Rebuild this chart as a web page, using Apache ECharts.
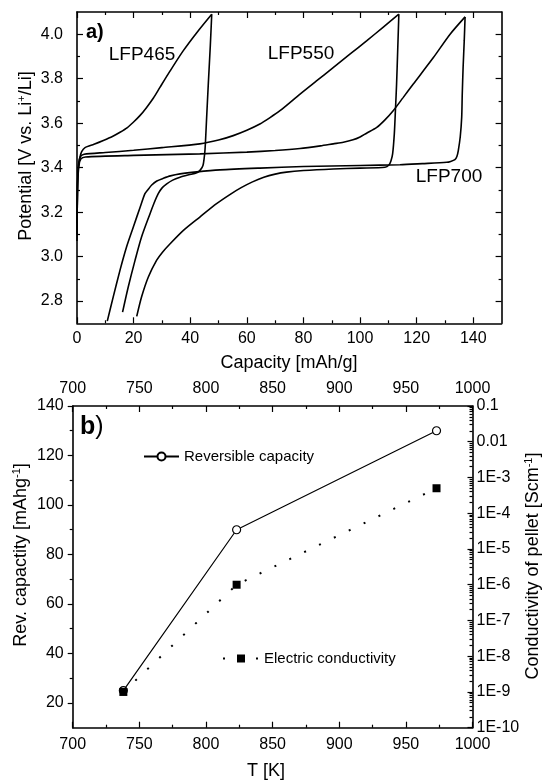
<!DOCTYPE html>
<html>
<head>
<meta charset="utf-8">
<script src="https://cdn.jsdelivr.net/npm/echarts@6/dist/echarts.min.js"></script>
<style>
  html, body { margin: 0; padding: 0; background: #fff; }
  #chart { width: 545px; height: 781px; }
</style>
</head>
<body>
<div id="chart"></div>
<script>
// ---- panel a): charge / discharge profiles, [capacity mAh/g, potential V] ----
const lfp465Charge = [[0,3.07],[0.15,3.30],[0.46,3.40],[1.06,3.447],[1.65,3.472],[2.83,3.490],[6,3.505],[9.3,3.522],[12.5,3.54],[15.2,3.559],[17.8,3.58],[19.9,3.604],[22.3,3.635],[24.6,3.671],[27,3.713],[29.3,3.761],[32.9,3.835],[37.5,3.925],[42.3,4.007],[47.6,4.09]];
const lfp465Discharge = [[47.6,4.09],[47.1,3.95],[46.4,3.78],[45.8,3.626],[45.4,3.52],[45.2,3.477],[44.9,3.44],[44.5,3.41],[43.6,3.39],[42.3,3.377],[39.5,3.368],[36.4,3.357],[33.8,3.344],[31.7,3.327],[30,3.308],[28.7,3.283],[27.2,3.24],[25.8,3.193],[22.8,3.088],[20.5,2.983],[18.1,2.863],[16.1,2.75]];
const lfp550Charge = [[0,3.10],[0.2,3.32],[0.6,3.42],[1.2,3.45],[2.5,3.46],[10,3.468],[20,3.478],[30,3.49],[43.4,3.507],[50,3.524],[55.2,3.544],[60,3.568],[64.6,3.596],[68.2,3.625],[71.7,3.656],[78.8,3.731],[84.6,3.79],[90.5,3.85],[96.4,3.91],[102.3,3.97],[108,4.03],[113.7,4.09]];
const lfp550Discharge = [[113.7,4.09],[113.3,3.93],[112.9,3.776],[112.5,3.66],[112.1,3.552],[111.5,3.462],[110.9,3.43],[110.2,3.412],[108.8,3.402],[100,3.398],[90.5,3.394],[80,3.387],[74,3.38],[70,3.371],[66,3.357],[62,3.336],[58,3.31],[54,3.279],[49.3,3.238],[43.4,3.178],[37.6,3.118],[32.9,3.058],[30.2,3.02],[28.1,2.983],[25.2,2.908],[22.8,2.818],[21.1,2.731]];
const lfp700Charge = [[0,3.15],[0.25,3.33],[0.7,3.41],[1.4,3.44],[3,3.448],[20,3.455],[43.4,3.462],[60,3.47],[70,3.477],[78.8,3.486],[86,3.498],[90.5,3.507],[94.1,3.514],[97.5,3.525],[100,3.538],[102.3,3.555],[105.9,3.581],[108.8,3.615],[111.7,3.656],[115.2,3.715],[118.8,3.776],[125.9,3.895],[131.8,4.0],[137.1,4.078]];
const lfp700Discharge = [[137.1,4.078],[136.8,3.97],[136.4,3.85],[136.1,3.73],[135.9,3.626],[135.4,3.54],[134.7,3.477],[134.2,3.45],[133.5,3.436],[132,3.428],[130.6,3.424],[122,3.418],[114.1,3.413],[100,3.41],[80,3.405],[64.6,3.398],[50.5,3.39],[42.3,3.381],[36.4,3.372],[33,3.363],[30.5,3.352],[28.2,3.34],[26.4,3.322],[25,3.30],[24,3.283],[22.3,3.222],[19.9,3.133],[17.5,3.043],[15.2,2.939],[12.8,2.819],[10.7,2.71]];

const capacityTicks = [0, 20, 40, 60, 80, 100, 120, 140];
const capacityMinor = [10, 30, 50, 70, 90, 110, 130];
const potentialTicks = [2.8, 3.0, 3.2, 3.4, 3.6, 3.8, 4.0];
const potentialMinor = [2.9, 3.1, 3.3, 3.5, 3.7, 3.9];

// ---- panel b): synthesis temperature vs. capacity and conductivity ----
const tempK = [738, 823, 973];
const revCapacity = [25, 90, 130];
const conductivity = [1e-9, 1e-6, 5e-4];

const tempTicks = [700, 750, 800, 850, 900, 950, 1000];
const revCapTicks = [20, 40, 60, 80, 100, 120, 140];
const revCapMinor = [30, 50, 70, 90, 110, 130];
const conductivityDecades = [-10, -9, -8, -7, -6, -5, -4, -3, -2, -1];

const FONT = '"Liberation Sans", Arial, Helvetica, sans-serif';
const INK = '#000';

// minor ticks of the logarithmic conductivity axis (2..9 within each decade)
const logMinor = [];
conductivityDecades.slice(0, -1).forEach(e => {
  for (let k = 2; k <= 9; k++) logMinor.push(e + Math.log10(k));
});

function decadeLabel(v) {
  const e = Math.round(Math.log10(v));
  if (e === -1) return '0.1';
  if (e === -2) return '0.01';
  return '1E' + e;
}

function linAxis(o) {
  return {
    type: 'value',
    gridIndex: o.grid,
    position: o.pos,
    min: o.min,
    max: o.max,
    axisLine: { show: o.line !== false, onZero: false, lineStyle: { color: INK, width: 1.6 } },
    axisTick: { show: true, inside: o.inside, length: o.len, customValues: o.ticks,
                lineStyle: { color: INK, width: 1.2 } },
    axisLabel: o.labels
      ? { show: true, customValues: o.ticks, margin: o.margin, color: INK, fontSize: 16,
          fontFamily: FONT, formatter: o.fmt || (v => String(v)) }
      : { show: false },
    splitLine: { show: false },
    z: 5
  };
}

const fmtPot = v => Number(v).toFixed(1);

function tempAxis(pos) {
  return {
    type: 'value', gridIndex: 1, position: pos, min: tempTicks[0], max: tempTicks[tempTicks.length - 1], interval: 50,
    axisLine: { onZero: false, lineStyle: { color: INK, width: 1.6 } },
    axisTick: { inside: true, length: 6, lineStyle: { color: INK, width: 1.2 } },
    minorTick: { show: true, splitNumber: 2, length: 3, lineStyle: { color: INK, width: 1.2 } },
    axisLabel: { margin: 9, color: INK, fontSize: 16, fontFamily: FONT, formatter: v => String(v) },
    splitLine: { show: false }
  };
}

const xAxes = [
  // panel a
  linAxis({ grid: 0, pos: 'bottom', min: 0, max: 150, ticks: capacityTicks, inside: true, len: 6, labels: true, margin: 7 }),
  linAxis({ grid: 0, pos: 'bottom', min: 0, max: 150, ticks: capacityMinor, inside: true, len: 3, line: false }),
  linAxis({ grid: 0, pos: 'top', min: 0, max: 150, ticks: capacityTicks, inside: true, len: 6 }),
  linAxis({ grid: 0, pos: 'top', min: 0, max: 150, ticks: capacityMinor, inside: true, len: 3, line: false }),
  // panel b
  tempAxis('bottom'),
  tempAxis('top')
];

const yAxes = [
  // panel a
  linAxis({ grid: 0, pos: 'left', min: 2.7, max: 4.1, ticks: potentialTicks, inside: true, len: 6, labels: true, margin: 14, fmt: fmtPot }),
  linAxis({ grid: 0, pos: 'left', min: 2.7, max: 4.1, ticks: potentialMinor, inside: true, len: 3, line: false }),
  linAxis({ grid: 0, pos: 'right', min: 2.7, max: 4.1, ticks: potentialTicks, inside: true, len: 6 }),
  linAxis({ grid: 0, pos: 'right', min: 2.7, max: 4.1, ticks: potentialMinor, inside: true, len: 3, line: false }),
  // panel b, left: reversible capacity
  linAxis({ grid: 1, pos: 'left', min: 10, max: 140, ticks: revCapTicks, inside: false, len: 5, labels: true, margin: 9 }),
  linAxis({ grid: 1, pos: 'left', min: 10, max: 140, ticks: revCapMinor, inside: false, len: 3, line: false }),
  // panel b, right: conductivity (log)
  {
    type: 'log', logBase: 10, gridIndex: 1, position: 'right', min: 1e-10, max: 0.1,
    axisLine: { onZero: false, lineStyle: { color: INK, width: 1.6 } },
    axisTick: { inside: true, length: 5, lineStyle: { color: INK, width: 1.2 } },
    axisLabel: { margin: 4, color: INK, fontSize: 16, fontFamily: FONT, formatter: decadeLabel },
    splitLine: { show: false }
  },
  linAxis({ grid: 1, pos: 'right', min: -10, max: -1, ticks: logMinor, inside: true, len: 3, line: false })
];

function profile(name, data) {
  return {
    name, type: 'line', xAxisIndex: 0, yAxisIndex: 0, data,
    showSymbol: false, symbol: 'none', smooth: 0.25, clip: true,
    lineStyle: { color: INK, width: 1.6 }, z: 3
  };
}

const series = [
  profile('LFP465 charge', lfp465Charge),
  profile('LFP465 discharge', lfp465Discharge),
  profile('LFP550 charge', lfp550Charge),
  profile('LFP550 discharge', lfp550Discharge),
  profile('LFP700 charge', lfp700Charge),
  profile('LFP700 discharge', lfp700Discharge),
  {
    name: 'Reversible capacity', type: 'line', xAxisIndex: 4, yAxisIndex: 4,
    data: tempK.map((t, i) => [t, revCapacity[i]]),
    symbol: 'circle', symbolSize: 8, showSymbol: true,
    lineStyle: { color: INK, width: 1.2 },
    itemStyle: { color: '#fff', borderColor: INK, borderWidth: 1.2 }, z: 4
  },
  {
    name: 'Electric conductivity', type: 'line', xAxisIndex: 4, yAxisIndex: 6,
    data: tempK.map((t, i) => [t, conductivity[i]]),
    symbol: 'rect', symbolSize: 8, showSymbol: true,
    lineStyle: { color: INK, width: 2, type: [2, 14.5] },
    itemStyle: { color: INK }, z: 4
  }
];

function label(x, y, text, size, extra) {
  return Object.assign({
    type: 'text', x, y, z: 20,
    style: { text, fill: INK, fontSize: size, fontFamily: FONT, align: 'center', verticalAlign: 'middle' }
  }, extra || {});
}

function supLabel(x, y, pre, sup, post, rotation) {
  return {
    type: 'text', x, y, rotation, z: 20,
    style: {
      text: `{n|${pre}}{s|${sup}}{n|${post}}`,
      fill: INK, align: 'center', verticalAlign: 'middle',
      rich: {
        n: { fontSize: 18, fontFamily: FONT, fill: INK, lineHeight: 20 },
        s: { fontSize: 11, fontFamily: FONT, fill: INK, verticalAlign: 'top', lineHeight: 11 }
      }
    }
  };
}

const graphic = [
  // panel a annotations
  {
    type: 'text', x: 86, y: 32, z: 20,
    style: { text: 'a)', fill: INK, fontSize: 20, fontWeight: 'bold', fontFamily: FONT, align: 'left', verticalAlign: 'middle' }
  },
  label(142, 55, 'LFP465', 19),
  label(301, 54, 'LFP550', 19),
  label(449, 177, 'LFP700', 19),
  label(289, 363, 'Capacity [mAh/g]', 18),
  supLabel(26, 156, 'Potential [V vs. Li', '+', '/Li]', Math.PI / 2),
  // panel b annotations
  {
    type: 'text', x: 80, y: 427, z: 20,
    style: {
      text: '{b|b}{p|)}', align: 'left', verticalAlign: 'middle',
      rich: {
        b: { fontSize: 25, fontWeight: 'bold', fontFamily: FONT, fill: INK },
        p: { fontSize: 25, fontFamily: FONT, fill: INK }
      }
    }
  },
  label(266, 771, 'T [K]', 18),
  supLabel(21, 555, 'Rev. capactity [mAhg', '-1', ']', Math.PI / 2),
  supLabel(533, 566, 'Conductivity of pellet [Scm', '-1', ']', Math.PI / 2)
];

const legendBase = {
  orient: 'horizontal', selectedMode: false, itemHeight: 10, padding: 0,
  textStyle: { color: INK, fontSize: 15, fontFamily: FONT }
};

const option = {
  animation: false,
  backgroundColor: '#fff',
  grid: [
    { left: 77, top: 12, width: 424.6, height: 311.3, containLabel: false },
    { left: 72.7, top: 406, width: 399.8, height: 321.7, containLabel: false }
  ],
  xAxis: xAxes,
  yAxis: yAxes,
  legend: [
    Object.assign({}, legendBase, { data: ['Reversible capacity'], left: 143, top: 449, itemWidth: 35 }),
    Object.assign({}, legendBase, { data: ['Electric conductivity'], left: 222, top: 651, itemWidth: 36 })
  ],
  graphic,
  series
};

const chart = echarts.init(document.getElementById('chart'), null, { renderer: 'canvas' });
chart.setOption(option);
</script>
</body>
</html>
